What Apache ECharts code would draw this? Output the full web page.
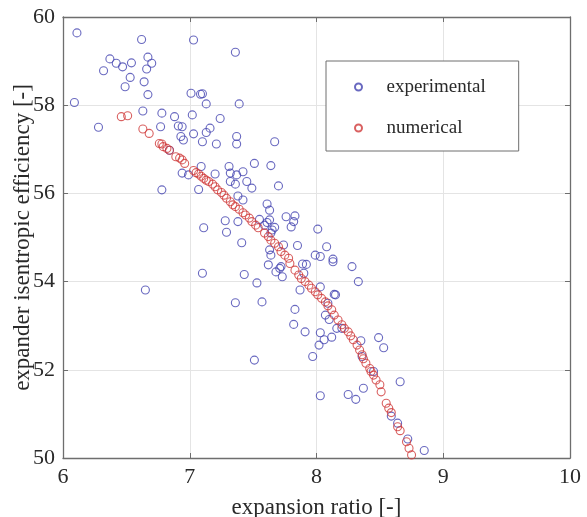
<!DOCTYPE html>
<html>
<head>
<meta charset="utf-8">
<script src="https://cdn.jsdelivr.net/npm/echarts@6/dist/echarts.min.js"></script>
<style>
html,body{margin:0;padding:0;background:#fff;}
#chart{width:587px;height:517px;}
</style>
</head>
<body>
<div id="chart"></div>
<script>
// Data
var seriesNames = ['experimental', 'numerical'];
var xTicks = [6, 7, 8, 9, 10];
var yTicks = [50, 52, 54, 56, 58, 60];

var expRatio = [6.11,6.62,7.03,7.36,6.37,6.42,6.47,6.54,6.32,6.67,6.70,6.66,6.53,6.49,6.64,6.67,6.09,7.01,7.085,7.10,7.13,7.39,6.63,6.78,6.88,7.02,6.28,6.77,6.91,6.94,7.24,7.03,7.16,7.13,6.93,6.95,7.10,7.21,7.37,7.37,7.67,6.84,7.31,7.32,7.37,7.42,7.51,7.64,7.09,6.94,6.99,7.20,7.32,7.36,7.45,7.49,7.70,7.07,6.78,7.38,7.42,7.61,7.63,7.76,7.83,7.82,7.80,7.63,7.59,7.65,7.64,7.28,7.29,7.11,7.41,7.74,7.63,7.64,8.01,8.08,7.99,8.03,8.13,7.55,7.38,7.85,7.62,7.68,7.72,7.73,7.89,7.92,7.90,7.10,7.43,7.53,7.87,7.36,7.57,7.83,6.65,7.51,7.82,8.13,8.28,8.33,8.03,8.14,8.15,8.09,8.07,8.10,7.91,8.03,8.06,8.02,8.12,7.97,8.16,8.20,8.35,8.36,8.49,8.53,8.45,8.66,8.03,8.25,8.31,8.37,8.59,8.64,8.72,8.85,7.67,7.61,7.71];
var expEff = [59.64,59.49,59.48,59.20,59.05,58.95,58.87,58.96,58.78,59.09,58.95,58.82,58.63,58.42,58.53,58.24,58.06,58.27,58.25,58.26,58.03,58.03,57.87,57.82,57.74,57.78,57.50,57.51,57.53,57.51,57.70,57.35,57.48,57.38,57.29,57.21,57.17,57.12,57.29,57.12,57.17,56.98,56.61,56.46,56.42,56.49,56.68,56.63,56.61,56.46,56.42,56.44,56.27,56.21,56.27,56.12,56.17,56.09,56.08,55.94,55.85,55.76,55.62,55.47,55.49,55.36,55.24,55.40,55.28,55.17,55.10,55.38,55.12,55.22,54.88,54.83,54.72,54.60,55.19,54.79,54.60,54.57,54.51,55.41,55.36,54.82,54.38,54.22,54.34,54.11,54.40,54.39,54.19,54.19,54.16,53.97,53.81,53.52,53.54,53.37,53.81,52.22,53.03,54.45,54.34,54.00,53.88,53.71,53.70,53.51,53.24,53.14,52.86,52.84,52.68,52.56,52.74,52.30,52.94,52.94,52.66,52.30,52.73,52.50,51.96,51.73,51.41,51.44,51.33,51.58,50.95,50.79,50.43,50.17,55.23,55.34,54.30];

var numRatio = [6.46,6.51,6.63,6.68,6.76,6.78,6.79,6.82,6.84,6.89,6.92,6.94,6.96,7.03,7.05,7.07,7.09,7.11,7.13,7.15,7.18,7.20,7.22,7.25,7.27,7.29,7.32,7.34,7.36,7.39,7.42,7.44,7.47,7.49,7.52,7.54,7.59,7.62,7.64,7.67,7.70,7.72,7.75,7.78,7.79,7.83,7.86,7.88,7.91,7.94,7.96,7.99,8.01,8.04,8.07,8.09,8.12,8.14,8.17,8.20,8.22,8.25,8.27,8.29,8.32,8.34,8.36,8.37,8.39,8.42,8.43,8.45,8.47,8.50,8.51,8.55,8.57,8.59,8.64,8.66,8.71,8.73,8.75];
var numEff = [57.74,57.76,57.46,57.36,57.13,57.12,57.06,57.02,56.98,56.83,56.80,56.76,56.68,56.52,56.47,56.44,56.39,56.34,56.30,56.27,56.21,56.15,56.08,56.02,55.96,55.89,55.81,55.74,55.70,55.64,55.56,55.51,55.44,55.36,55.28,55.22,55.10,55.02,54.94,54.87,54.79,54.68,54.60,54.53,54.41,54.26,54.15,54.07,54.00,53.92,53.85,53.77,53.70,53.62,53.54,53.45,53.36,53.24,53.13,53.02,52.94,52.86,52.77,52.68,52.56,52.45,52.34,52.25,52.15,52.03,51.96,51.88,51.77,51.66,51.50,51.24,51.13,51.03,50.71,50.62,50.37,50.22,50.07];

function pairs(xs, ys) {
  var out = [];
  for (var i = 0; i < xs.length; i++) out.push([xs[i], ys[i]]);
  return out;
}

var FONT = '"Liberation Serif", "Times New Roman", serif';
var axisLineColor = '#6e6e6e';
var gridColor = '#e4e4e4';

function makeAxis(pos, showLabels, ticks, extra) {
  var a = {
    type: 'value',
    position: pos,
    min: ticks[0],
    max: ticks[ticks.length - 1],
    interval: ticks[1] - ticks[0],
    axisLine: { show: true, onZero: false, lineStyle: { color: axisLineColor, width: 1.3 } },
    axisTick: { show: true, inside: true, length: 5, lineStyle: { color: axisLineColor, width: 1 } },
    splitLine: { show: showLabels, lineStyle: { color: gridColor, width: 1 } },
    axisLabel: { show: showLabels, color: '#2a2a2a', fontFamily: FONT, fontSize: 22 },
    nameMoveOverlap: false
  };
  for (var k in extra) a[k] = extra[k];
  return a;
}

var chart = echarts.init(document.getElementById('chart'), null, { renderer: 'canvas' });
chart.setOption({
  animation: false,
  backgroundColor: '#fff',
  grid: { left: 63, right: 17, top: 17, bottom: 59, containLabel: false, outerBoundsMode: 'none' },
  xAxis: [
    makeAxis('bottom', true, xTicks, {
      name: 'expansion ratio [-]', nameLocation: 'middle', nameGap: 38,
      nameTextStyle: { color: '#2a2a2a', fontFamily: FONT, fontSize: 23 }
    }),
    makeAxis('top', false, xTicks, {})
  ],
  yAxis: [
    makeAxis('left', true, yTicks, {
      name: 'expander isentropic efficiency [-]', nameLocation: 'middle', nameGap: 29,
      nameTextStyle: { color: '#2a2a2a', fontFamily: FONT, fontSize: 23 }
    }),
    makeAxis('right', false, yTicks, {})
  ],
  legend: {
    orient: 'vertical',
    left: 326,
    top: 61,
    padding: [16, 33, 13, 28],
    itemWidth: 46,
    itemHeight: 7,
    itemGap: 21,
    backgroundColor: '#fff',
    borderColor: '#6e6e6e',
    borderWidth: 1,
    textStyle: { color: '#2a2a2a', fontFamily: FONT, fontSize: 19, lineHeight: 20 },
    data: seriesNames
  },
  series: [
    {
      name: seriesNames[0],
      type: 'scatter',
      xAxisIndex: 0, yAxisIndex: 0,
      symbol: 'circle',
      symbolSize: 8,
      itemStyle: { color: 'rgba(0,0,0,0)', borderColor: '#4343b0', borderWidth: 1.1 },
      data: pairs(expRatio, expEff)
    },
    {
      name: seriesNames[1],
      type: 'scatter',
      xAxisIndex: 0, yAxisIndex: 0,
      symbol: 'circle',
      symbolSize: 8,
      itemStyle: { color: 'rgba(0,0,0,0)', borderColor: '#d03a3a', borderWidth: 1.1 },
      data: pairs(numRatio, numEff)
    }
  ]
});
</script>
</body>
</html>
